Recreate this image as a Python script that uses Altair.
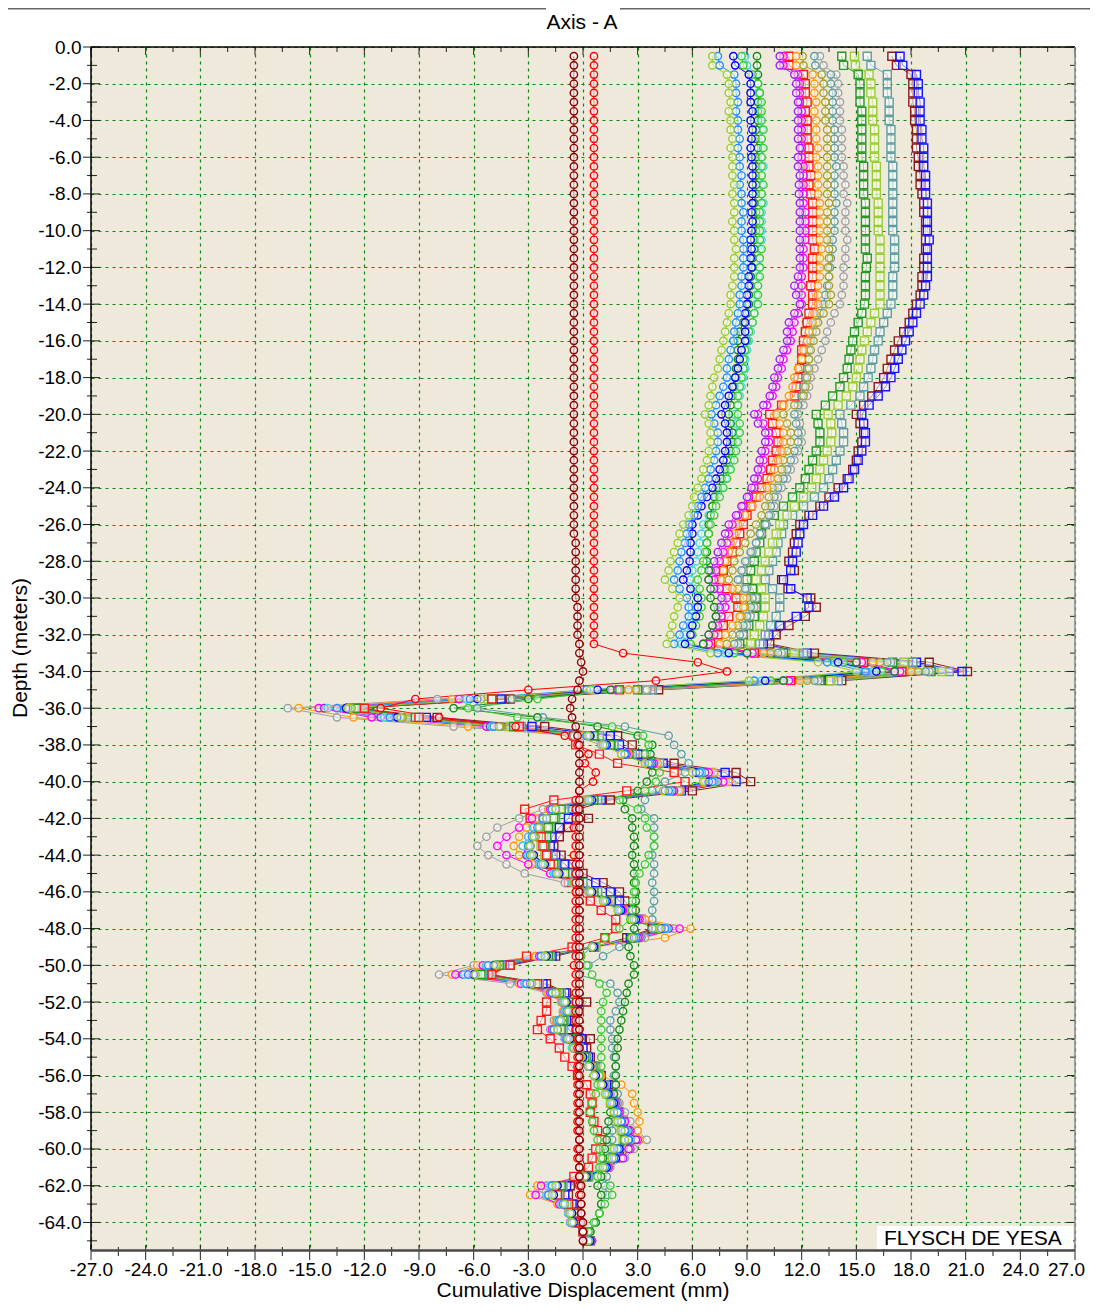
import altair as alt
import pandas as pd

FONT = "Liberation Sans"
W, H = 984, 1203

# probe depths (m): -0.5 ... -65.0
depth_levels = [-0.5 * (i + 1) for i in range(130)]

# axis tick values
x_major = [-27, -24, -21, -18, -15, -12, -9, -6, -3, 0, 3, 6, 9, 12, 15, 18, 21, 24, 27]
x_minor = [-25.5, -22.5, -19.5, -16.5, -13.5, -10.5, -7.5, -4.5, -1.5,
           1.5, 4.5, 7.5, 10.5, 13.5, 16.5, 19.5, 22.5, 25.5]
y_major = list(range(0, -66, -2))
y_minor = list(range(-1, -66, -2))

# ---------------- series values (mm), upper part -0.5 .. -32.5 m, lower part -33 .. -65 m ----------------
ygc_upper = [7.1, 7.1, 7.9, 8.0, 8.0, 8.1, 8.0, 8.1, 8.1,
             8.2, 8.1, 8.2, 8.2, 8.2, 8.3, 8.2, 8.3, 8.3, 8.2,
             8.3, 8.3, 8.4, 8.3, 8.3, 8.3, 8.2, 8.1, 8.1, 8.0,
             7.9, 7.8, 7.7, 7.6, 7.5, 7.4, 7.2, 7.1, 7.0, 6.9,
             6.7, 6.9, 7.0, 7.0, 6.9, 6.8, 6.6, 6.5, 6.3, 6.1,
             6.0, 5.8, 5.5, 5.3, 5.2, 5.0, 4.8, 4.7, 4.5, 4.9,
             5.3, 5.2, 5.0, 4.9, 4.8, 4.6]
ygc_lower = [7.0, 12.9, 15.0, 9.1, 0.4,
             -5.6, -12.9, -10.0, -4.6, 0.3, 1.1, 2.1, 3.4, 6.0, 6.6,
             4.4, 0.3, -1.5, -2.0, -2.4, -2.7, -2.9, -2.8, -2.2, -1.4,
             -0.5, 0.4, 1.1, 1.9, 2.7, 4.2, 2.7, 0.5, -2.1, -4.8,
             -5.9, -2.8, -1.5, -1.0, -0.8, -1.2, -1.4, -0.8, -0.5, -0.1,
             0.3, 0.6, 1.0, 1.2, 1.5, 1.7, 1.9, 2.1, 2.3, 1.7,
             1.6, 1.1, 0.1, -1.5, -1.7, -1.0, -0.7, -0.6, 0.0, 0.3]

dbc_upper = [7.4, 7.5, 8.3, 8.4, 8.4, 8.5, 8.4, 8.5, 8.5,
             8.6, 8.5, 8.6, 8.6, 8.7, 8.6, 8.7, 8.7, 8.8, 8.7,
             8.7, 8.8, 8.8, 8.8, 8.8, 8.7, 8.7, 8.6, 8.6, 8.5,
             8.4, 8.3, 8.25, 8.1, 8.0, 7.9, 7.9, 7.7, 7.5, 7.3,
             7.05, 7.2, 7.4, 7.4, 7.3, 7.2, 7.0, 6.9, 6.7, 6.5,
             6.3, 6.1, 5.8, 5.7, 5.6, 5.4, 5.3, 5.2, 5.0, 5.3,
             5.7, 5.8, 5.8, 5.5, 5.3, 5.0]
dbc_lower = [7.4, 13.4, 15.5, 9.4, 0.2,
             -6.2, -13.5, -10.6, -4.9, 0.2, 1.2, 2.3, 3.7, 6.4, 7.1,
             4.7, 0.4, -1.7, -2.2, -2.5, -2.8, -3.0, -2.9, -2.3, -1.5,
             -0.5, 0.4, 1.2, 2.0, 2.8, 4.5, 2.9, 0.5, -2.3, -5.2,
             -6.3, -3.1, -1.7, -1.0, -0.9, -1.3, -1.6, -0.9, -0.5, -0.1,
             0.3, 0.6, 1.0, 1.3, 1.6, 1.9, 2.1, 2.3, 2.5, 1.9,
             1.7, 1.2, 0.1, -1.7, -1.9, -1.1, -0.7, -0.6, 0.0, 0.3]

bc_upper = [8.25, 8.35, 9.1, 9.2, 9.2, 9.2, 9.3, 9.2, 9.3,
            9.25, 9.2, 9.25, 9.3, 9.3, 9.3, 9.3, 9.3, 9.25, 9.3,
            9.25, 9.2, 9.25, 9.2, 9.25, 9.1, 9.1, 9.0, 9.0, 8.9,
            8.9, 8.9, 8.9, 8.7, 8.6, 8.5, 8.35, 8.2, 8.0, 7.8,
            7.6, 7.8, 7.9, 7.9, 7.8, 7.7, 7.5, 7.3, 7.1, 6.8,
            6.5, 6.3, 6.0, 6.0, 5.9, 5.9, 5.85, 5.7, 5.5, 5.9,
            6.3, 6.3, 6.2, 6.0, 5.9, 5.6]
bc_lower = [8.0, 14.0, 16.1, 10.0, 0.8,
            -5.8, -13.0, -10.2, -4.6, 0.4, 1.3, 2.3, 3.6, 6.2, 6.9,
            4.5, 0.5, -1.5, -2.0, -2.4, -2.7, -2.9, -2.7, -2.1, -1.3,
            -0.4, 0.5, 1.3, 2.1, 2.9, 4.3, 2.8, 0.6, -2.0, -4.9,
            -6.0, -2.9, -1.5, -0.9, -0.8, -1.2, -1.4, -0.7, -0.4, 0.0,
            0.4, 0.7, 1.1, 1.4, 1.7, 1.9, 2.1, 2.3, 2.5, 2.0,
            1.8, 1.3, 0.2, -1.4, -1.6, -1.0, -0.6, -0.5, 0.0, 0.4]

tc_upper = [8.9, 9.0, 9.5, 9.6, 9.6, 9.7, 9.7, 9.7, 9.8,
            9.8, 9.8, 9.8, 9.9, 9.8, 9.8, 9.8, 9.9, 9.8, 9.8,
            9.8, 9.8, 9.7, 9.7, 9.7, 9.6, 9.6, 9.5, 9.5, 9.4,
            9.3, 9.2, 9.1, 9.0, 8.9, 8.9, 8.8, 8.7, 8.6, 8.5,
            8.3, 8.4, 8.5, 8.4, 8.3, 8.1, 8.0, 7.8, 7.6, 7.3,
            7.1, 6.9, 6.6, 6.5, 6.4, 6.3, 6.2, 6.0, 5.9, 6.1,
            6.3, 6.2, 6.1, 5.9, 5.6, 5.4]
tc_lower = [7.8, 13.8, 15.9, 9.8, 0.6,
            -6.4, -14.0, -10.9, -5.0, 0.2, 1.2, 2.3, 3.7, 6.5, 7.2,
            4.8, 0.3, -1.7, -2.2, -2.7, -3.0, -3.3, -3.0, -2.4, -1.6,
            -0.6, 0.4, 1.2, 2.0, 2.9, 4.6, 2.9, 0.5, -2.3, -5.3,
            -6.5, -3.2, -1.7, -1.1, -1.0, -1.4, -1.6, -0.9, -0.6, -0.1,
            0.3, 0.6, 1.0, 1.4, 1.7, 1.9, 2.1, 2.4, 2.6, 2.0,
            1.8, 1.3, 0.1, -1.8, -2.0, -1.2, -0.8, -0.7, 0.0, 0.3]

lgc_upper = [8.7, 8.8, 9.3, 9.6, 9.7, 9.8, 9.8, 9.8, 9.9,
             9.8, 9.9, 9.8, 9.8, 9.8, 9.9, 9.8, 9.8, 9.7, 9.7,
             9.7, 9.7, 9.8, 9.7, 9.7, 9.7, 9.6, 9.6, 9.6, 9.4,
             9.3, 9.1, 9.0, 8.9, 8.8, 8.8, 8.7, 8.6, 8.5, 8.5,
             8.5, 8.6, 8.6, 8.5, 8.4, 8.3, 8.1, 7.9, 7.7, 7.5,
             7.3, 7.2, 7.0, 6.9, 6.8, 6.7, 6.6, 6.5, 6.3, 6.4,
             6.5, 6.5, 6.4, 6.2, 6.0, 5.9]
lgc_lower = [8.3, 14.3, 16.4, 10.3, 2.0,
             -2.5, -6.3, -3.6, 1.6, 3.3, 3.6, 3.4, 3.6, 4.2, 4.0,
             3.4, 2.0, 3.0, 3.4, 3.5, 3.9, 3.9, 3.6, 3.4, 3.1,
             2.9, 2.8, 2.7, 2.7, 2.6, 2.0, 1.2, 0.5, -0.1, 0.2,
             0.5, 0.9, 1.3, 1.1, 1.0, 1.0, 1.0, 1.0, 1.0, 1.0,
             1.0, 0.9, 0.8, 0.7, 0.5, 0.4, 0.5, 0.6, 0.8, 0.9,
             1.0, 0.9, 0.8, 1.5, 1.6, 1.2, 0.9, 0.6, 0.3, 0.4]

gc_upper = [9.55, 9.55, 9.6, 9.6, 9.7, 9.6, 9.6, 9.6, 9.5,
            9.5, 9.6, 9.5, 9.5, 9.5, 9.5, 9.5, 9.4, 9.5, 9.5,
            9.5, 9.4, 9.4, 9.3, 9.3, 9.2, 9.2, 9.1, 9.1, 9.0,
            8.8, 8.6, 8.5, 8.5, 8.5, 8.4, 8.4, 8.3, 8.2, 8.1,
            8.0, 8.1, 8.2, 8.2, 8.1, 7.9, 7.8, 7.6, 7.4, 7.2,
            7.1, 7.0, 6.9, 6.9, 6.8, 6.8, 6.8, 6.9, 6.9, 7.0,
            7.0, 7.2, 7.3, 7.1, 6.9, 6.6]
gc_lower = [9.0, 15.0, 17.1, 11.0, 1.5,
            -3.0, -7.1, -2.5, 0.8, 3.0, 3.8, 3.7, 3.6, 3.8, 3.5,
            3.0, 2.2, 2.3, 2.7, 2.7, 2.8, 2.8, 2.7, 2.8, 2.8,
            2.8, 2.9, 2.9, 2.9, 2.8, 2.8, 2.6, 2.5, 2.6, 2.8,
            2.8, 2.5, 2.4, 2.3, 2.2, 2.1, 2.0, 1.9, 1.9, 1.8,
            1.8, 1.8, 1.8, 1.7, 1.6, 1.5, 1.4, 1.3, 1.3, 1.2,
            1.1, 1.1, 1.0, 0.8, 1.0, 1.0, 0.9, 0.7, 0.4, 0.3]

cbc_upper = [12.7, 12.75, 13.6, 13.6, 13.7, 13.7, 13.7, 13.7, 13.8,
             13.8, 13.8, 13.8, 13.9, 13.8, 13.8, 13.8, 13.9, 13.8, 13.8,
             13.8, 13.7, 13.7, 13.6, 13.55, 13.5, 13.4, 13.3, 13.2, 13.0,
             12.8, 12.6, 12.5, 12.4, 12.4, 12.3, 12.2, 12.1, 12.0, 11.8,
             11.6, 11.7, 11.8, 11.8, 11.6, 11.4, 11.2, 11.0, 10.7, 10.5,
             10.3, 10.2, 10.0, 9.7, 9.5, 9.2, 8.9, 8.7, 8.5, 8.9,
             9.3, 9.2, 9.0, 8.8, 8.6, 8.3]
cbc_lower = [10.7, 16.7, 18.8, 12.7, 2.5,
             -3.9, -5.8, -2.2, 2.3, 4.7, 5.0, 5.4, 5.8, 5.6, 4.5,
             3.8, 3.4, 3.2, 3.9, 3.9, 3.9, 3.9, 3.8, 3.9, 3.9,
             3.8, 3.9, 3.9, 3.8, 3.8, 3.8, 3.2, 2.0, 1.1, 0.3,
             -0.3, 1.5, 1.9, 2.0, 1.8, 1.5, 1.5, 1.6, 1.6, 1.7,
             1.8, 1.7, 1.8, 1.9, 1.9, 1.8, 1.7, 1.6, 1.6, 1.5,
             1.4, 1.4, 1.3, 1.2, 1.3, 1.0, 0.9, 0.7, 0.4, 0.3]

pc_upper = [10.8, 10.8, 11.6, 11.7, 11.7, 11.8, 11.8, 11.8, 11.8,
            11.8, 11.9, 11.8, 11.8, 11.9, 11.85, 11.85, 11.9, 11.9, 11.9,
            11.9, 11.9, 11.9, 11.9, 11.9, 11.8, 11.6, 11.7, 11.9, 11.6,
            11.3, 11.2, 11.2, 11.0, 10.8, 10.7, 10.5, 10.4, 10.25, 9.9,
            9.4, 9.6, 10.0, 10.0, 9.8, 9.7, 9.6, 9.4, 9.25, 9.0,
            8.7, 8.4, 8.0, 7.8, 7.6, 7.4, 7.2, 7.0, 6.9, 7.2,
            7.6, 7.5, 7.3, 7.1, 6.9, 6.6]
pc_lower = [9.0, 15.0, 17.1, 11.0, 1.6,
            -6.4, -14.2, -11.1, -5.1, 0.3, 1.3, 2.3, 3.8, 6.7, 7.4,
            4.9, 0.3, -1.7, -2.2, -2.7, -3.0, -3.3, -3.1, -2.4, -1.6,
            -0.5, 0.4, 1.3, 2.1, 3.0, 4.7, 3.0, 0.5, -2.3, -5.3,
            -6.6, -3.2, -1.7, -1.1, -1.0, -1.4, -1.6, -0.8, -0.5, -0.1,
            0.3, 0.6, 1.1, 1.4, 1.7, 1.9, 2.1, 2.5, 2.9, 2.5,
            2.2, 1.3, 0.1, -1.7, -1.9, -1.2, -0.7, -0.6, 0.0, 0.3]

mc_upper = [11.0, 11.0, 11.8, 11.9, 11.9, 11.9, 12.0, 12.0, 12.0,
            12.0, 12.0, 12.0, 12.1, 12.1, 12.1, 12.1, 12.1, 12.2, 12.2,
            12.2, 12.2, 12.1, 12.1, 12.1, 12.0, 12.0, 12.0, 12.0, 11.8,
            11.6, 11.5, 11.4, 11.2, 11.0, 10.9, 10.7, 10.6, 10.4, 10.1,
            9.6, 9.9, 10.2, 10.2, 10.0, 9.9, 9.8, 9.6, 9.4, 9.1,
            8.8, 8.5, 8.2, 8.0, 7.9, 7.7, 7.5, 7.3, 7.2, 7.5,
            7.9, 7.8, 7.6, 7.4, 7.2, 6.9]
mc_lower = [9.3, 15.3, 17.4, 11.3, 1.9,
            -6.8, -14.5, -11.6, -5.3, 0.2, 1.2, 2.4, 3.9, 6.9, 7.7,
            5.0, 0.3, -1.8, -2.8, -3.5, -4.2, -4.7, -4.2, -3.0, -1.8,
            -0.6, 0.4, 1.3, 2.2, 3.1, 5.3, 3.1, 0.6, -2.4, -5.5,
            -7.0, -3.4, -1.8, -1.1, -1.0, -1.4, -1.7, -0.9, -0.5, -0.1,
            0.3, 0.7, 1.1, 1.5, 1.8, 2.0, 2.3, 2.6, 3.0, 2.6,
            2.1, 1.4, 0.1, -2.3, -2.6, -1.3, -0.8, -0.7, 0.0, 0.5]

oc_upper = [11.7, 11.7, 12.6, 12.7, 12.7, 12.8, 12.7, 12.8, 12.8,
            12.8, 12.9, 12.8, 12.9, 12.9, 12.9, 12.9, 13.0, 13.0, 13.0,
            13.0, 13.0, 13.1, 13.0, 13.0, 13.0, 12.9, 12.9, 12.9, 12.7,
            12.6, 12.4, 12.3, 12.1, 12.0, 11.8, 11.6, 11.5, 11.3, 11.0,
            10.6, 10.8, 11.0, 11.0, 10.9, 10.7, 10.5, 10.3, 10.1, 9.7,
            9.3, 8.9, 8.5, 8.3, 8.1, 8.0, 7.8, 7.7, 7.6, 8.2,
            8.8, 8.8, 8.6, 8.2, 7.8, 7.5]
oc_lower = [9.9, 15.9, 18.0, 11.9, 2.5,
            -7.2, -15.6, -12.6, -6.3, 0.0, 1.3, 2.5, 4.1, 7.2, 8.0,
            5.3, 0.2, -1.9, -2.6, -3.1, -3.5, -3.8, -3.5, -2.8, -1.8,
            -0.6, 0.5, 1.4, 2.3, 3.4, 5.9, 4.5, 0.6, -2.6, -5.8,
            -7.2, -3.5, -1.9, -1.2, -1.1, -1.5, -1.7, -0.9, -0.5, 0.0,
            0.5, 1.0, 2.1, 2.7, 2.8, 3.0, 3.1, 3.0, 3.1, 2.4,
            2.0, 1.4, 0.0, -2.5, -2.9, -1.4, -0.8, -0.7, 0.0, 0.3]

olc_upper = [12.05, 12.1, 13.1, 13.2, 13.2, 13.3, 13.3, 13.3, 13.4,
             13.4, 13.4, 13.4, 13.4, 13.4, 13.4, 13.4, 13.5, 13.4, 13.4,
             13.4, 13.4, 13.5, 13.5, 13.45, 13.5, 13.5, 13.6, 13.5, 13.2,
             12.9, 12.8, 12.65, 12.5, 12.4, 12.4, 12.3, 12.2, 12.1, 11.6,
             11.0, 11.2, 11.4, 11.4, 11.2, 11.0, 10.9, 10.7, 10.4, 10.2,
             10.0, 9.8, 9.5, 9.2, 8.9, 8.6, 8.3, 8.2, 8.0, 8.5,
             9.0, 8.9, 8.7, 8.5, 8.2, 7.9]
olc_lower = [10.3, 16.3, 18.4, 12.3, 2.9,
             -5.6, -12.7, -9.9, -4.5, 0.4, 1.2, 2.1, 3.5, 6.0, 6.7,
             4.4, 0.4, -1.5, -2.0, -2.3, -2.6, -2.9, -2.7, -2.1, -1.4,
             -0.4, 0.5, 1.2, 2.0, 2.7, 4.2, 2.7, 0.6, -2.0, -4.7,
             -5.9, -2.8, -1.4, -0.9, -0.8, -1.2, -1.4, -0.7, -0.4, 0.0,
             0.4, 0.7, 1.1, 1.4, 1.7, 1.9, 2.1, 2.4, 2.6, 2.0,
             1.8, 1.3, 0.2, -1.4, -1.7, -1.0, -0.6, -0.5, 0.1, 0.4]

grc_upper = [13.0, 13.2, 13.9, 14.0, 14.0, 14.1, 14.1, 14.1, 14.2,
             14.2, 14.2, 14.2, 14.3, 14.3, 14.4, 14.3, 14.5, 14.4, 14.4,
             14.4, 14.5, 14.4, 14.4, 14.3, 14.3, 14.3, 14.2, 14.1, 13.8,
             13.6, 13.4, 13.3, 13.1, 12.9, 12.7, 12.5, 12.4, 12.3, 12.1,
             11.8, 11.9, 12.0, 12.0, 11.8, 11.6, 11.4, 11.2, 10.9, 10.7,
             10.5, 10.3, 10.1, 9.8, 9.5, 9.3, 9.0, 8.8, 8.6, 9.0,
             9.5, 9.4, 9.2, 9.0, 8.8, 8.5]
grc_lower = [10.9, 16.9, 19.0, 12.9, 3.5,
             -8.0, -16.2, -13.5, -7.1, -0.5, 1.0, 2.4, 4.0, 7.0, 7.8,
             5.2, 0.0, -2.2, -3.5, -4.7, -5.3, -5.8, -5.2, -4.2, -3.2,
             -1.0, 0.3, 1.3, 2.2, 3.2, 5.0, 3.4, 0.5, -2.6, -6.0,
             -7.9, -4.0, -2.0, -1.2, -1.1, -1.6, -1.8, -1.0, -0.6, -0.1,
             0.4, 0.8, 1.2, 1.6, 2.0, 2.3, 2.6, 3.0, 3.5, 2.8,
             2.3, 1.5, 0.1, -2.0, -2.4, -1.3, -0.8, -0.7, 0.0, 0.3]

gs_upper = [14.2, 14.3, 15.1, 15.2, 15.2, 15.2, 15.3, 15.3, 15.3,
            15.3, 15.3, 15.3, 15.4, 15.4, 15.4, 15.4, 15.5, 15.5, 15.5,
            15.5, 15.5, 15.5, 15.6, 15.55, 15.5, 15.5, 15.5, 15.45, 15.3,
            15.1, 14.9, 14.8, 14.7, 14.6, 14.5, 14.3, 14.1, 13.7, 13.3,
            12.8, 12.9, 13.0, 13.0, 12.8, 12.6, 12.4, 12.2, 11.9, 11.5,
            11.0, 10.5, 10.0, 9.8, 9.7, 9.5, 9.4, 9.2, 9.0, 9.3,
            9.5, 9.5, 9.4, 9.1, 8.8, 8.6]
gs_lower = [11.0, 17.0, 19.1, 13.0, 3.0,
            -5.0, -12.4, -9.2, -3.8, 0.6, 1.5, 2.5, 3.8, 6.4, 7.2,
            4.8, 0.6, -1.2, -1.6, -1.9, -2.0, -2.1, -2.0, -1.6, -1.0,
            -0.2, 0.6, 1.3, 2.0, 2.7, 4.0, 2.7, 0.6, -1.9, -4.6,
            -5.6, -2.6, -1.3, -0.8, -0.7, -1.1, -1.2, -0.6, -0.3, 0.1,
            0.5, 0.8, 1.1, 1.4, 1.6, 1.8, 2.0, 2.2, 2.3, 1.8,
            1.6, 1.1, 0.2, -1.2, -1.4, -0.9, -0.5, -0.4, 0.1, 0.4]

ygs_upper = [14.9, 14.95, 15.7, 15.8, 15.8, 15.9, 15.9, 15.9, 16.0,
             16.0, 16.0, 16.0, 16.1, 16.1, 16.1, 16.1, 16.2, 16.2, 16.2,
             16.2, 16.3, 16.3, 16.3, 16.3, 16.3, 16.3, 16.3, 16.3, 16.0,
             15.8, 15.6, 15.45, 15.3, 15.2, 15.1, 15.0, 14.8, 14.45, 14.0,
             13.45, 13.6, 13.65, 13.6, 13.4, 13.2, 13.0, 12.8, 12.55, 12.1,
             11.6, 11.2, 10.8, 10.6, 10.4, 10.2, 10.0, 9.8, 9.5, 9.8,
             10.0, 10.0, 9.9, 9.7, 9.4, 9.2]
ygs_lower = [11.6, 17.6, 19.7, 13.6, 3.4,
             -5.2, -12.6, -9.5, -4.0, 0.5, 1.4, 2.4, 3.9, 6.6, 7.4,
             5.0, 0.5, -1.3, -1.7, -2.0, -2.2, -2.3, -2.1, -1.7, -1.1,
             -0.3, 0.5, 1.2, 2.0, 2.8, 4.1, 2.8, 0.7, -2.0, -4.7,
             -5.8, -2.7, -1.4, -0.8, -0.8, -1.1, -1.3, -0.7, -0.4, 0.0,
             0.4, 0.7, 1.0, 1.3, 1.5, 1.7, 1.9, 2.1, 2.2, 1.7,
             1.5, 1.0, 0.1, -1.3, -1.5, -0.9, -0.6, -0.5, 0.0, 0.3]

cbs_upper = [15.6, 15.8, 16.7, 16.7, 16.7, 16.8, 16.8, 16.8, 16.9,
             16.9, 16.9, 16.9, 17.0, 17.0, 17.0, 17.0, 17.0, 17.0, 17.0,
             17.0, 17.1, 17.1, 17.1, 17.1, 17.0, 17.0, 17.0, 16.9, 16.7,
             16.5, 16.3, 16.2, 16.0, 15.9, 15.8, 15.65, 15.4, 15.2, 14.7,
             14.1, 14.2, 14.3, 14.3, 14.1, 13.9, 13.7, 13.5, 13.2, 12.7,
             12.1, 11.5, 11.0, 10.9, 10.7, 10.6, 10.4, 10.2, 10.0, 10.4,
             10.8, 10.8, 10.6, 10.3, 10.0, 9.7]
cbs_lower = [12.1, 18.1, 20.1, 14.0, 3.8,
             -5.0, -12.5, -9.0, -3.4, 0.9, 1.7, 2.7, 4.2, 7.0, 7.8,
             5.3, 0.8, -1.0, -1.5, -1.8, -2.0, -2.1, -1.9, -1.5, -0.8,
             0.0, 0.8, 1.5, 2.2, 2.9, 4.2, 2.9, 0.7, -1.8, -4.5,
             -5.5, -2.4, -1.2, -0.6, -0.6, -1.0, -1.1, -0.5, -0.2, 0.2,
             0.6, 0.9, 1.2, 1.5, 1.7, 1.9, 2.1, 2.3, 2.4, 1.9,
             1.7, 1.2, 0.3, -1.1, -1.3, -0.8, -0.4, -0.3, 0.1, 0.4]

drs_upper = [16.95, 17.2, 18.0, 18.1, 18.1, 18.1, 18.2, 18.2, 18.3,
             18.3, 18.3, 18.4, 18.4, 18.5, 18.5, 18.6, 18.7, 18.7, 18.8,
             18.8, 18.8, 18.8, 18.7, 18.7, 18.6, 18.6, 18.5, 18.3, 18.1,
             17.9, 17.6, 17.3, 17.1, 16.9, 16.7, 16.5, 16.2, 15.85, 15.4,
             15.0, 15.2, 15.4, 15.3, 15.1, 15.0, 14.8, 14.5, 14.0, 13.5,
             13.0, 12.4, 11.9, 11.7, 11.6, 11.5, 11.3, 11.6, 10.9, 11.25,
             12.5, 12.8, 12.2, 11.3, 10.6, 10.25]
drs_lower = [12.7, 19.0, 21.1, 14.2, 4.15,
             -4.0, -12.5, -8.0, -2.1, 1.9, 2.7, 3.3, 5.0, 8.4, 9.2,
             6.0, 1.5, -0.3, 0.3, -0.8, -1.3, -1.6, -1.2, -0.6, 0.0,
             1.1, 2.0, 2.3, 2.7, 3.2, 3.8, 2.4, 0.6, -1.5, -4.0,
             -5.2, -2.0, -0.9, 0.2, -0.3, -0.7, -0.3, 0.4, 0.2, 0.4,
             0.7, 1.0, 1.4, 1.6, 1.8, 2.0, 2.2, 2.4, 2.5, 2.0,
             1.8, 1.3, 0.3, -0.7, -0.8, -0.5, -0.3, -0.2, 0.0, 0.2]

bs_upper = [17.4, 17.55, 18.3, 18.4, 18.4, 18.5, 18.5, 18.5, 18.6,
            18.6, 18.7, 18.7, 18.7, 18.8, 18.8, 18.8, 18.9, 18.9, 18.9,
            18.9, 19.0, 18.9, 18.9, 18.9, 18.9, 18.8, 18.7, 18.5, 18.3,
            18.1, 17.9, 17.7, 17.5, 17.3, 17.1, 16.9, 16.6, 16.2, 15.7,
            15.3, 15.4, 15.5, 15.5, 15.3, 15.1, 14.9, 14.6, 14.3, 13.8,
            13.2, 12.6, 12.1, 11.9, 11.8, 11.7, 11.5, 11.4, 11.0, 11.4,
            12.3, 12.4, 11.7, 10.8, 10.2, 9.9]
bs_lower = [12.3, 18.3, 20.8, 13.5, 3.5,
            -4.5, -12.8, -8.6, -2.8, 1.5, 2.0, 3.0, 4.4, 7.8, 8.4,
            5.4, 1.0, -0.6, -0.8, -1.3, -1.7, -1.8, -1.5, -1.0, -0.4,
            0.7, 1.5, 2.0, 2.5, 3.1, 4.0, 2.6, 0.6, -1.7, -4.3,
            -5.4, -2.2, -1.0, -0.3, -0.5, -0.9, -0.8, -0.1, 0.0, 0.3,
            0.6, 0.9, 1.3, 1.5, 1.7, 1.9, 2.1, 2.3, 2.4, 1.9,
            1.7, 1.2, 0.2, -0.9, -1.0, -0.6, -0.4, -0.3, 0.0, 0.2]

rs_upper = [11.3, 11.3, 12.1, 12.2, 12.2, 12.3, 12.2, 12.3, 12.3,
            12.3, 12.4, 12.4, 12.4, 12.5, 12.4, 12.5, 12.6, 12.6, 12.6,
            12.6, 12.6, 12.7, 12.6, 12.6, 12.6, 12.5, 12.6, 12.6, 12.4,
            12.3, 12.2, 12.1, 12.0, 12.0, 11.9, 11.8, 11.7, 11.6, 10.9,
            10.25, 10.4, 10.6, 10.7, 10.6, 10.4, 10.3, 10.1, 9.8, 9.5,
            9.2, 9.0, 8.8, 8.6, 8.4, 8.2, 7.9, 7.7, 7.5, 7.9,
            8.4, 8.5, 8.0, 7.7, 7.4, 7.0]
rs_lower = [9.4, 15.4, 17.5, 11.4, 2.0,
            -5.0, -12.0, -9.0, -3.5, -0.5, -0.4, 0.9, 1.9, 5.0, 5.6,
            2.4, -1.6, -3.2, -2.9, -2.6, -2.3, -2.2, -2.0, -1.8, -1.4,
            -0.8, -0.3, 0.4, 1.0, 1.8, 1.8, 1.2, -0.6, -3.1, -4.0,
            -5.0, -2.5, -1.6, -2.0, -2.0, -2.3, -2.5, -1.8, -1.3, -1.0,
            -0.6, -0.3, 0.2, 0.4, 0.5, 0.4, 0.6, 0.8, 1.0, 0.7,
            0.5, 0.3, -0.5, -1.5, -1.4, -0.8, -0.5, -0.4, 0.0, 0.2]

rc_upper = [0.6, 0.6, 0.6, 0.6, 0.6, 0.6, 0.6, 0.6, 0.6,
            0.6, 0.6, 0.6, 0.6, 0.6, 0.6, 0.6, 0.6, 0.6, 0.6,
            0.6, 0.6, 0.6, 0.6, 0.6, 0.6, 0.6, 0.6, 0.6, 0.6,
            0.6, 0.6, 0.6, 0.6, 0.6, 0.6, 0.6, 0.6, 0.6, 0.6,
            0.6, 0.6, 0.6, 0.6, 0.6, 0.6, 0.6, 0.6, 0.6, 0.6,
            0.6, 0.6, 0.6, 0.6, 0.6, 0.6, 0.6, 0.6, 0.6, 0.6,
            0.6, 0.6, 0.6, 0.6, 0.6, 0.6]
rc_lower = [2.2, 6.3, 7.9, 4.0, -3.0,
            -9.2, -11.1, -7.9, -3.7, -1.0, -0.3, 0.3, 0.1, 0.7, 0.55,
            -0.2, -0.4, -0.4, -0.4, -0.5, -0.4, -0.4, -0.5, -0.4, -0.4,
            -0.4, -0.4, -0.4, -0.4, -0.4, -0.4, -0.4, -0.4, -0.4, -0.5,
            -0.4, -0.4, -0.4, -0.4, -0.4, -0.4, -0.4, -0.3, -0.3, -0.3,
            -0.3, -0.3, -0.3, -0.3, -0.3, -0.3, -0.3, -0.3, -0.2, -0.3,
            -0.3, -0.2, -0.2, -0.2, -0.2, -0.1, -0.1, -0.1, 0.0, 0.0]

drc_upper = [-0.5, -0.5, -0.5, -0.5, -0.5, -0.5, -0.5, -0.5, -0.5,
             -0.5, -0.5, -0.5, -0.5, -0.5, -0.5, -0.5, -0.5, -0.5, -0.5,
             -0.5, -0.5, -0.5, -0.5, -0.5, -0.5, -0.5, -0.5, -0.5, -0.5,
             -0.5, -0.5, -0.5, -0.5, -0.5, -0.5, -0.5, -0.5, -0.5, -0.5,
             -0.5, -0.5, -0.5, -0.5, -0.5, -0.5, -0.5, -0.5, -0.5, -0.5,
             -0.5, -0.5, -0.5, -0.5, -0.4, -0.4, -0.4, -0.4, -0.4, -0.4,
             -0.4, -0.3, -0.3, -0.3, -0.3, -0.2]
drc_lower = [-0.2, -0.1, 0.0, -0.2, -0.3,
             -0.6, -0.7, -0.6, -0.4, -0.3, -0.2, -0.2, -0.2, -0.2, -0.2,
             -0.2, -0.2, -0.2, -0.2, -0.2, -0.2, -0.2, -0.2, -0.2, -0.2,
             -0.2, -0.2, -0.2, -0.2, -0.2, -0.2, -0.2, -0.2, -0.2, -0.2,
             -0.2, -0.2, -0.2, -0.2, -0.2, -0.2, -0.2, -0.2, -0.2, -0.2,
             -0.2, -0.2, -0.2, -0.2, -0.2, -0.2, -0.2, -0.2, -0.2, -0.2,
             -0.2, -0.2, -0.2, -0.1, -0.1, -0.1, -0.1, 0.0, 0.0, 0.0]

# (id, colour, marker, values) -- drawing order: first = bottom
series_table = [
    ("DRS", "#8B1A1A", "square", drs_upper + drs_lower),
    ("BS", "#1414FF", "square", bs_upper + bs_lower),
    ("CBS", "#5F9EA0", "square", cbs_upper + cbs_lower),
    ("YGS", "#9ACD32", "square", ygs_upper + ygs_lower),
    ("GS", "#249A24", "square", gs_upper + gs_lower),
    ("RS", "#FF1A1A", "square", rs_upper + rs_lower),
    ("GRC", "#A0A0A0", "circle", grc_upper + grc_lower),
    ("CBC", "#5F9EA0", "circle", cbc_upper + cbc_lower),
    ("OLC", "#A89F2A", "circle", olc_upper + olc_lower),
    ("OC", "#FF9A10", "circle", oc_upper + oc_lower),
    ("MC", "#FF00FF", "circle", mc_upper + mc_lower),
    ("PC", "#A020F0", "circle", pc_upper + pc_lower),
    ("TC", "#40D8D8", "circle", tc_upper + tc_lower),
    ("GC", "#138A13", "circle", gc_upper + gc_lower),
    ("LGC", "#3CCB32", "circle", lgc_upper + lgc_lower),
    ("BC", "#0000FF", "circle", bc_upper + bc_lower),
    ("DBC", "#1E90FF", "circle", dbc_upper + dbc_lower),
    ("YGC", "#9ACD32", "circle", ygc_upper + ygc_lower),
    ("RC", "#FF0000", "circle", rc_upper + rc_lower),
    ("DRC", "#8B0000", "circle", drc_upper + drc_lower),
]

rows = []
for z, (sid, colour, shape, vals) in enumerate(series_table):
    assert len(vals) == len(depth_levels), (sid, len(vals))
    for i, (d, v) in enumerate(zip(depth_levels, vals)):
        rows.append({"sid": sid, "shape": shape, "z": z, "idx": i, "depth": d, "disp": v})
df = pd.DataFrame(rows)
df_c = df[df["shape"] == "circle"]
df_s = df[df["shape"] == "square"]

xs = alt.Scale(domain=[-27, 27], nice=False, zero=False)
ys = alt.Scale(domain=[-65.5, 0], nice=False, zero=False)
cs = alt.Scale(domain=[s[0] for s in series_table], range=[s[1] for s in series_table])

LBL = "(datum.value < 0 ? '-' : '') + format(abs(datum.value), '.1f')"
GRID = "#0A8A0A"

x_axis = alt.Axis(values=x_major, grid=True, gridColor=GRID, gridDash=[3, 4], gridWidth=1.2,
                  gridOpacity=1, ticks=False, tickSize=0, domain=False, labelExpr=LBL,
                  labelFont=FONT, labelFontSize=19, labelColor="black", labelPadding=10,
                  labelOffset={"condition": {"test": "datum.value >= 27", "value": -9}, "value": 0},
                  labelFlush=False, labelOverlap=False, title=None)
y_axis = alt.Axis(values=y_major, grid=True, gridColor=GRID, gridDash=[3, 4], gridWidth=1.2,
                  gridOpacity=1, ticks=False, tickSize=0, domain=False, labelExpr=LBL,
                  labelFont=FONT, labelFontSize=19, labelColor="black", labelPadding=10,
                  labelFlush=False, labelOverlap=False, title=None)

# every layer that uses a positional scale carries the same axis definition
lines = alt.Chart(df).mark_line(strokeWidth=1).encode(
    x=alt.X("disp:Q", scale=xs, axis=x_axis),
    y=alt.Y("depth:Q", scale=ys, axis=y_axis),
    stroke=alt.Stroke("sid:N", scale=cs, legend=None),
    detail="sid:N",
    order=alt.Order("idx:Q"),
)


def points(data, shape, size):
    return alt.Chart(data).mark_point(
        shape=shape, size=size, filled=True, fill="white", fillOpacity=0.5,
        strokeWidth=1.4, opacity=1
    ).encode(
        x=alt.X("disp:Q", scale=xs, axis=x_axis),
        y=alt.Y("depth:Q", scale=ys, axis=y_axis),
        stroke=alt.Stroke("sid:N", scale=cs, legend=None),
        order=alt.Order("z:Q"),
    )


pts_s = points(df_s, "square", 64)
pts_c = points(df_c, "circle", 54)


def hticks(vals, y1, y2):
    return alt.Chart(pd.DataFrame({"disp": vals})).mark_rule(color="#222", strokeWidth=1).encode(
        x=alt.X("disp:Q", scale=xs, axis=x_axis), y=alt.value(y1), y2=alt.value(y2))


def vticks(vals, x1, x2):
    return alt.Chart(pd.DataFrame({"depth": vals})).mark_rule(color="#222", strokeWidth=1).encode(
        y=alt.Y("depth:Q", scale=ys, axis=y_axis), x=alt.value(x1), x2=alt.value(x2))


one = pd.DataFrame({"a": [0]})


def hline(x1, x2, y, color, width):
    return alt.Chart(one).mark_rule(color=color, strokeWidth=width).encode(
        x=alt.value(x1), x2=alt.value(x2), y=alt.value(y))


def vline(x, y1, y2, color, width):
    return alt.Chart(one).mark_rule(color=color, strokeWidth=width).encode(
        x=alt.value(x), y=alt.value(y1), y2=alt.value(y2))


def label(text, x, y, size=21, angle=0, align="center", baseline="alphabetic"):
    return alt.Chart(one).mark_text(
        text=text, font=FONT, fontSize=size, color="black", angle=angle,
        align=align, baseline=baseline
    ).encode(x=alt.value(x), y=alt.value(y))


ticks = [
    hticks(x_major, H - 5, H + 10), hticks(x_minor, H - 3, H + 6),
    hticks(x_major, 0, 8), hticks(x_minor, 0, 5),
    vticks(y_major, -8, 9), vticks(y_minor, -4, 6),
    vticks(y_major, W - 8, W), vticks(y_minor, W - 5, W),
]

borders = [
    hline(0, W, 0, "black", 1.5),
    vline(0, 0, H, "black", 1.5),
    vline(W, 0, H, "#8a8a8a", 1.5),
    hline(0, W, H + 0.5, "#4a4a4a", 2.5),
    hline(-83, 455, -38.2, "#666", 1.5),
    hline(529, 999, -38.2, "#666", 1.5),
]

box = alt.Chart(one).mark_rect(fill="white").encode(
    x=alt.value(786), x2=alt.value(982), y=alt.value(1179), y2=alt.value(1202))

texts = [
    label("Axis - A", 491, -18),
    label("Cumulative Displacement (mm)", 492, 1250),
    label("Depth (meters)", -70, 601, angle=270, baseline="middle"),
    label("FLYSCH DE YESA", 793, 1198, align="left"),
]

chart = alt.layer(lines, pts_s, pts_c, *ticks, box, *borders, *texts).properties(
    width=W, height=H,
    padding={"left": 83, "top": 39, "right": 15, "bottom": 51},
    autosize=alt.AutoSizeParams(type="none"),
    background="white",
).configure_view(fill="#EFE9DC", stroke=None)

chart.save("out.html", embed_options={"renderer": "svg", "actions": False})
